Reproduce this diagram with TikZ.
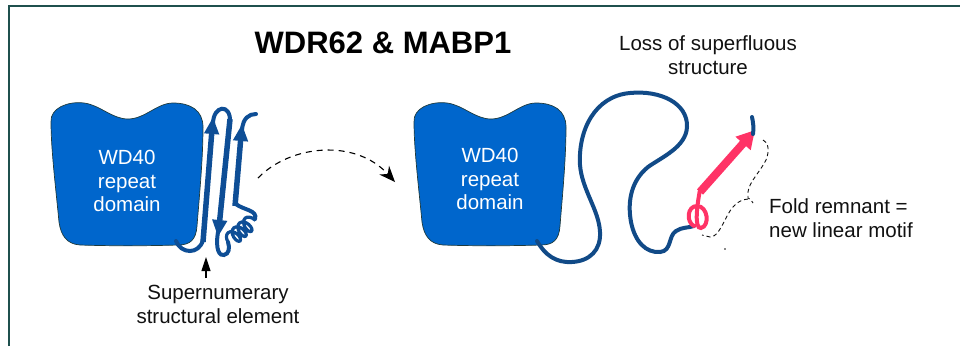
\documentclass[tikz,border=0pt]{standalone}
\usepackage{fontspec}
\setmainfont{Liberation Sans}
\usetikzlibrary{arrows.meta,decorations.pathmorphing}

\definecolor{framec}{RGB}{31,80,78}
\definecolor{domainblue}{RGB}{0,102,204}
\definecolor{domainedge}{RGB}{30,58,60}
\definecolor{strandblue}{RGB}{14,78,150}
\definecolor{chainnavy}{RGB}{17,74,135}
\definecolor{motifpink}{RGB}{255,51,102}
\definecolor{labelc}{RGB}{17,17,17}

\tikzset{
  labeltext/.style={inner sep=0pt, text=labelc, font=\fontsize{20.5}{24}\selectfont, align=center},
  domaintext/.style={inner sep=0pt, text=white, font=\fontsize{20.5}{23.5}\selectfont, align=center},
  domainshape/.style={fill=domainblue, draw=domainedge, line width=0.7pt},
  loopline/.style={draw=strandblue, line width=4pt, line cap=round},
  strand/.style={draw=strandblue, line width=5.5pt, -{Triangle[length=17pt,width=14pt]}},
  chain/.style={draw=chainnavy, line width=4pt, line cap=round},
  motif/.style={draw=motifpink, line width=4pt, line cap=round},
  motifarrow/.style={draw=motifpink, line width=8pt, -{Triangle[length=18pt,width=19pt]}},
  bracket/.style={draw=labelc, line width=0.9pt, dash pattern=on 4pt off 3pt},
  transition/.style={draw=black, line width=1.1pt, dash pattern=on 6pt off 5pt, -{Stealth[length=16pt,width=13pt]}},
  pointer/.style={draw=black, line width=1.1pt, -{Triangle[length=14pt,width=9pt]}},
  wdblob/.pic={
    \path[domainshape] (51,122) .. controls (50,108) and (68,101) .. (84,103)
      .. controls (100,105) and (112,119) .. (128,119)
      .. controls (145,119) and (157,103) .. (173,103)
      .. controls (190,103) and (203,110) .. (203,127)
      .. controls (203,160) and (199,200) .. (197,226)
      .. controls (196,240) and (190,245) .. (178,245)
      .. controls (145,246) and (110,246) .. (80,245)
      .. controls (67,244) and (61,236) .. (59,222)
      .. controls (56,190) and (51,150) .. (51,122) -- cycle;
  }
}

\begin{document}
\begin{tikzpicture}[x=1pt,y=-1pt]
\useasboundingbox (0,0) rectangle (960,346);

% frame edges
\draw[framec, line width=2pt] (9,346) -- (9,6) -- (960,6);

% title and captions
\node[inner sep=0pt, text=black, font=\fontsize{31}{36}\selectfont\bfseries] (title) at (383,43) {WDR62 \& MABP1};
\node[labeltext] (loss) at (708,55) {Loss of superfluous\\structure};
\node[labeltext, align=left, anchor=west] (fold) at (769,218) {Fold remnant =\\new linear motif};
\node[labeltext] (supl) at (218,304) {Supernumerary\\structural element};

% WD40 domains
\pic at (0,0) {wdblob};
\pic at (363,0) {wdblob};
\node[domaintext] (wdl) at (127,181) {WD40\\repeat\\domain};
\node[domaintext] (wdr) at (490,179) {WD40\\repeat\\domain};

% supernumerary element: beta hairpins and helix
\draw[loopline] (176,241) .. controls (181,254) and (199,255) .. (203,240);
\draw[strand] (203,242) -- (213,117);
\draw[loopline] (213,124) .. controls (213,105) and (231,103) .. (230,122);
\draw[strand] (230,119) -- (218,237);
\draw[loopline] (218,232) .. controls (215,251) and (220,256) .. (224,255)
  .. controls (229,254) and (230,248) .. (228,242);
\draw[loopline, line width=3.2pt, decorate,
  decoration={coil, amplitude=7pt, segment length=7.5pt, aspect=0.6}] (228,242) -- (255,219);
\draw[loopline] (255,219) .. controls (258,210) and (243,210) .. (236,204);
\draw[strand] (235,206) -- (242,124);
\draw[loopline] (242,130) .. controls (243,118) and (249,114) .. (256,114);

% pointer to the element
\coordinate (ptrtail) at (206,278);
\coordinate (ptrtip) at (206,257);
\draw[pointer] (ptrtail) -- (ptrtip);

% transition arrow
\coordinate (trfrom) at (258,178);
\coordinate (trto) at (395,182);
\draw[transition] (trfrom) .. controls (290,145) and (355,138) .. (trto);

% unfolded chain
\draw[chain] (537,241) .. controls (545,255) and (556,263) .. (572,262)
  .. controls (590,261) and (601,250) .. (600,232)
  .. controls (599,210) and (582,190) .. (580,165)
  .. controls (578,130) and (595,96) .. (630,93)
  .. controls (660,90) and (688,103) .. (687,127)
  .. controls (686,147) and (662,157) .. (648,167)
  .. controls (632,180) and (627,200) .. (631,222)
  .. controls (635,242) and (646,253) .. (660,252)
  .. controls (672,251) and (668,236) .. (676,231)
  .. controls (682,227) and (688,228) .. (694,226);

% fold remnant motif
\draw[motif] (694,226) .. controls (686,222) and (687,206) .. (697,206)
  .. controls (708,206) and (710,226) .. (701,228)
  .. controls (694,229) and (697,205) .. (700,190);
\draw[motifarrow] (700,192) -- (755,130);
\draw[chain] (753,134) .. controls (754,128) and (753,122) .. (752,117);

% dashed bracket around the motif
\draw[bracket] (763,140) .. controls (768,142) and (770,150) .. (766,160)
  .. controls (760,172) and (749,182) .. (748,192) -- (748,198)
  .. controls (750,199) and (752,200) .. (753,203);
\draw[bracket] (748,199) .. controls (738,200) and (732,206) .. (726,218)
  .. controls (720,230) and (716,237) .. (710,237) -- (702,235);
\fill[labelc] (725,249) circle (0.8pt);
\end{tikzpicture}
\end{document}
